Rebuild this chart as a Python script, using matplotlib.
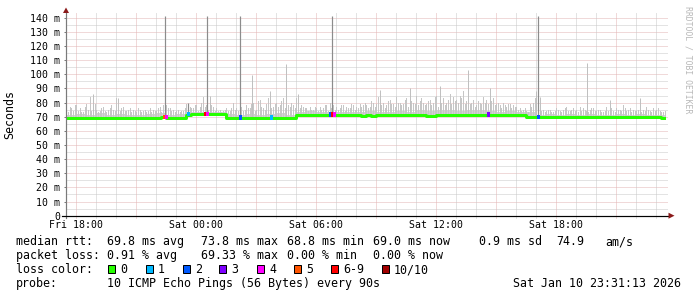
import matplotlib
matplotlib.use("Agg")
import matplotlib.pyplot as plt
from matplotlib.patches import Rectangle, Polygon
from matplotlib.lines import Line2D

# ---------------- data ----------------
# time axis: hours since Fri 17:31:13 (graph spans 30 h, ends Sat 23:31:13)
span_hours = 30.0
first_full_hour_offset = 0.4797      # Fri 18:00
first_full_hour_clock = 18
time_labels = ["Fri 18:00", "Sat 00:00", "Sat 06:00", "Sat 12:00", "Sat 18:00"]

# median RTT (ms), 15-minute bins
median_ms = [
    69.3, 69.3, 69.2, 69.3, 69.4, 69.3, 69.3, 69.2, 69.3, 69.3,
    69.3, 69.4, 69.3, 69.2, 69.3, 69.3, 69.3, 69.3, 69.4, 69.5,
    69.4, 69.3, 69.3, 69.4, 71.5, 71.6, 71.7, 71.6, 71.6, 71.7,
    71.6, 71.6, 69.3, 69.2, 69.2, 69.3, 69.2, 69.2, 69.3, 69.2,
    69.2, 69.3, 69.2, 69.2, 69.3, 69.2, 71.3, 71.4, 71.3, 71.3,
    71.4, 71.3, 71.3, 71.4, 71.3, 71.4, 71.3, 71.3, 70.9, 70.8,
    70.9, 70.8, 71.3, 71.4, 71.3, 71.3, 71.4, 71.3, 71.3, 71.4,
    71.3, 70.9, 70.8, 70.8, 70.9, 71.3, 71.4, 71.3, 71.3, 71.4,
    71.3, 71.4, 71.3, 71.3, 71.4, 71.3, 71.3, 71.4, 71.3, 71.4,
    71.3, 71.3, 69.6, 69.5, 69.5, 69.6, 69.5, 69.5, 69.6, 69.5,
    69.5, 69.6, 69.5, 69.5, 69.6, 69.5, 69.5, 69.6, 69.5, 69.5,
    69.6, 69.5, 69.5, 69.6, 69.5, 69.5, 69.6, 69.5, 69.5, 69.4,
]

# max ping per 10-minute bin (ms): thin smoke columns (first half of each bin)
smoke_top_a_ms = [
    75, 77, 74, 78, 76, 73, 79, 84, 76,
    75, 74, 77, 73, 76, 75, 83, 74, 77,
    74, 76, 75, 73, 75, 74, 73, 76, 75,
    74, 77, 78, 78, 76, 75, 74, 73, 74,
    79, 77, 76, 78, 77, 84, 78, 76, 77,
    76, 75, 74, 76, 74, 80, 76, 75, 74,
    78, 76, 80, 75, 82, 76, 79, 84, 77,
    80, 78, 83, 79, 77, 78, 83, 76, 77,
    76, 77, 75, 76, 77, 76, 78, 80, 78,
    77, 76, 78, 77, 76, 78, 77, 79, 78,
    78, 77, 80, 79, 83, 80, 78, 82, 79,
    84, 80, 79, 83, 78, 80, 85, 81, 80,
    79, 82, 80, 85, 79, 83, 80, 86, 84,
    82, 85, 88, 81, 79, 82, 78, 80, 84,
    82, 80, 83, 79, 78, 80, 77, 79, 78,
    77, 76, 75, 74, 79, 80, 78, 76, 75,
    74, 75, 73, 76, 74, 75, 77, 74, 76,
    75, 77, 76, 74, 75, 76, 74, 75, 73,
    77, 75, 74, 76, 75, 78, 74, 76, 75,
    74, 76, 75, 77, 74, 76, 75, 74, 73,
]

# max ping per 10-minute bin (ms): second half of each bin
smoke_top_b_ms = [
    73, 76, 78, 74, 73, 77, 75, 74, 79,
    73, 76, 74, 75, 78, 74, 73, 76, 74,
    75, 73, 74, 76, 73, 75, 74, 73, 74,
    76, 73, 75, 76, 74, 73, 75, 74, 76,
    75, 76, 78, 74, 80, 77, 75, 78, 74,
    74, 73, 75, 74, 76, 75, 74, 77, 75,
    76, 79, 74, 81, 77, 75, 83, 76, 79,
    77, 81, 76, 78, 80, 76, 75, 78, 76,
    74, 75, 77, 74, 75, 78, 74, 76, 75,
    75, 78, 74, 76, 79, 75, 76, 77, 80,
    76, 81, 77, 84, 78, 76, 81, 79, 77,
    80, 78, 82, 77, 81, 79, 78, 83, 78,
    81, 78, 84, 77, 80, 78, 82, 79, 81,
    80, 83, 79, 84, 80, 77, 81, 79, 80,
    79, 81, 78, 80, 76, 78, 79, 76, 77,
    75, 74, 76, 73, 77, 83, 76, 74, 73,
    75, 73, 74, 75, 73, 76, 74, 75, 74,
    73, 74, 75, 73, 76, 74, 75, 73, 74,
    74, 76, 73, 75, 74, 76, 75, 73, 74,
    75, 73, 74, 75, 73, 74, 76, 73, 74,
]

# upper edge of the dense smoke band (ms), 30-minute bins
smoke_band_ms = [
    71.5, 72.0, 71.5, 72.5, 71.5, 72.0, 71.5, 71.5, 72.0, 72.5,
    71.5, 72.0, 73.5, 73.0, 73.5, 73.0, 72.0, 71.5, 72.0, 71.5,
    72.0, 72.5, 71.5, 73.5, 74.0, 73.5, 73.0, 73.5, 73.0, 73.5,
    74.0, 73.5, 73.0, 74.0, 73.5, 74.5, 74.0, 75.0, 74.5, 74.0,
    74.5, 75.0, 74.0, 73.5, 74.0, 73.0, 73.5, 71.5, 72.0, 71.5,
    72.0, 71.5, 72.0, 71.5, 71.5, 72.0, 71.5, 72.0, 71.5, 71.5,
]

# isolated narrow spikes: time (h) and top (ms)
spike_hours = [4.95, 7.05, 8.70, 13.30, 23.60,
               9.30, 11.00, 20.10, 26.05, 1.35, 2.60, 7.20, 10.20,
               11.60, 15.70, 17.20, 18.70, 21.20, 27.20, 28.70,
               6.10, 23.50, 23.70]
spike_ms = [145, 145, 145, 145, 145,
            99.5, 107, 103, 108, 86, 83, 85, 88,
            86, 89, 90, 92, 90, 82, 83,
            80, 88, 84]
spike_dark = [True] * 5 + [False] * 15 + [True, False, False]

# packet-loss marks on the median line: time (h), loss class index
loss_hours = [4.90, 5.00, 6.10, 6.95, 7.05, 8.70, 10.25, 13.20, 13.30, 13.40, 21.10, 23.60]
loss_class = [5, 4, 1, 6, 4, 2, 1, 2, 6, 4, 3, 2]

loss_labels = ["0", "1", "2", "3", "4", "5", "6-9", "10/10"]
loss_colors = ["#26ff00", "#00b8ff", "#0059ff", "#7e00ff", "#ff00ff",
               "#ff5500", "#ff0000", "#a10000"]

y_ticks = [0, 10, 20, 30, 40, 50, 60, 70, 80, 90, 100, 110, 120, 130, 140]

rtt_stats = [69.8, 73.8, 68.8, 69.0]
rtt_sd = 0.9
rtt_ams = 74.9
loss_stats = [0.91, 69.33, 0.00, 0.00]
probe_text = "10 ICMP Echo Pings (56 Bytes) every 90s"
stamp_text = "Sat Jan 10 23:31:13 2026"

# ---------------- figure ----------------
W, H = 697, 297
fig = plt.figure(figsize=(W / 100, H / 100), dpi=100)
fig.patch.set_facecolor("white")


def fx(px):
    return px / W


def fy(py):
    return 1 - py / H


X0, X1 = 66, 666
Y0, Y1 = 215.7, 15.7
YMAX = (Y0 - Y1) / 1.414
ax = fig.add_axes([fx(X0), fy(Y0), (X1 - X0) / W, (Y0 - Y1) / H])
ax.set_xlim(0, span_hours)
ax.set_ylim(0, YMAX)
ax.set_facecolor("white")
for s in ax.spines.values():
    s.set_visible(False)

MONO = "DejaVu Sans Mono"
PX = 0.72  # one pixel in points
HPX = span_hours / (X1 - X0)  # hours per pixel

# grid (drawn slightly beyond the plot)
gx_end = span_hours + 2 * HPX
for v in range(5, 141, 5):
    col = "#e3b4b4" if v % 10 == 0 else "#c8c8c8"
    ax.add_line(Line2D([0, gx_end], [v, v], color=col, lw=PX,
                       linestyle=(0, (1, 1)), zorder=0, clip_on=False))
k = 0
while first_full_hour_offset + k < span_hours + 0.05:
    h = first_full_hour_offset + k
    clock = (first_full_hour_clock + k) % 24
    col = "#e3b4b4" if clock % 3 == 0 else "#c8c8c8"
    ax.add_line(Line2D([h, h], [-1.5, YMAX + 2], color=col, lw=PX,
                       linestyle=(0, (1, 1)), zorder=0, clip_on=False))
    k += 1

# smoke
nb_med = len(median_ms)
w_med = span_hours / nb_med
nb_top = len(smoke_top_a_ms)
w_top = span_hours / nb_top
nb_band = len(smoke_band_ms)
w_band = span_hours / nb_band


def median_at(h):
    i = min(int(h / w_med), nb_med - 1)
    return median_ms[i]


for i, top in enumerate(smoke_band_ms):
    t = i * w_band
    base = median_at(t + w_band / 2) - 0.8
    ax.bar(t, top - base, bottom=base, width=w_band, align="edge",
           color="#d2d2d2", linewidth=0, zorder=2)
for frac, arr in ((0.25, smoke_top_a_ms), (0.75, smoke_top_b_ms)):
    for i, top in enumerate(arr):
        t = (i + frac) * w_top
        base = median_at(t)
        ax.bar(t, top - base, bottom=base, width=1.0 * HPX, align="center",
               color="#c6c6c6", linewidth=0, zorder=2.2)
for h, top, dark in zip(spike_hours, spike_ms, spike_dark):
    base = median_at(h)
    ax.vlines(h, base, min(top, YMAX), colors="#8c8c8c" if dark else "#c0c0c0",
              lw=1.2 * PX if dark else PX, zorder=3 if dark else 2.3)

# median line
xs = [i * w_med for i in range(nb_med)] + [span_hours]
ys = list(median_ms) + [median_ms[-1]]
ax.plot(xs, ys, drawstyle="steps-post", color=loss_colors[0], lw=3 * PX,
        solid_capstyle="butt", zorder=4)

# loss marks
for h, c in zip(loss_hours, loss_class):
    m = median_at(h)
    ax.add_patch(Rectangle((h - 1.5 * HPX, m - 1.3), 3 * HPX, 3.0,
                           facecolor=loss_colors[c], edgecolor="none", zorder=5))

# axes lines and arrows
ax.add_line(Line2D([0, 0], [-2.5 / 1.414, YMAX + 5.5 / 1.414], color="#7a7a7a",
                   lw=PX * 1.2, zorder=6, clip_on=False))
ax.add_line(Line2D([-4 * HPX, span_hours + 3 * HPX], [0, 0], color="black",
                   lw=PX * 1.2, zorder=6, clip_on=False))
fig.patches.append(Polygon([[fx(63), fy(13)], [fx(69), fy(13)], [fx(66), fy(7.5)]],
                           closed=True, transform=fig.transFigure,
                           facecolor="#8b1a1a", edgecolor="none"))
fig.patches.append(Polygon([[fx(668.5), fy(212.7)], [fx(668.5), fy(218.7)], [fx(674.5), fy(215.7)]],
                           closed=True, transform=fig.transFigure,
                           facecolor="#8b1a1a", edgecolor="none"))

# ticks and labels
ax.set_yticks(y_ticks)
ax.set_yticklabels(["0" if v == 0 else f"{v} m" for v in y_ticks])
label_hours = [first_full_hour_offset + 6 * i for i in range(len(time_labels))]
ax.set_xticks(label_hours)
ax.set_xticklabels(time_labels)
ax.tick_params(axis="y", length=2 * 0.72, width=PX, color="#7a7a7a", pad=4 * 0.72,
               labelsize=7.1, labelfontfamily=MONO)
ax.tick_params(axis="x", length=0, pad=4.6 * 0.72, labelsize=7.1, labelfontfamily=MONO)

fig.text(fx(10), fy(114.5), "Seconds", rotation=90, family=MONO, fontsize=8.4,
         ha="center", va="center")
fig.text(fx(688), fy(60), "RRDTOOL / TOBI OETIKER", rotation=-90, family=MONO,
         fontsize=5.9, ha="center", va="center", color="#b8b8b8")

# legend
FS = 8.4


def ftext(x, yb, s):
    fig.text(fx(x), fy(yb), s, family=MONO, fontsize=FS, ha="left", va="baseline")


L1, L2, L3, L4 = 245.2, 259.2, 273.2, 287.2
ftext(16, L1, "median rtt:")
ftext(107.3, L1, f"{rtt_stats[0]:.1f} ms avg")
ftext(200.7, L1, f"{rtt_stats[1]:.1f} ms max")
ftext(287.3, L1, f"{rtt_stats[2]:.1f} ms min")
ftext(372.7, L1, f"{rtt_stats[3]:.1f} ms now")
ftext(479.3, L1, f"{rtt_sd:.1f} ms sd")
ftext(556.3, L1, f"{rtt_ams:.1f}")
ftext(605.7, L1, "am/s")

ftext(16, L2, "packet loss:")
ftext(107.3, L2, f"{loss_stats[0]:.2f} % avg")
ftext(200.7, L2, f"{loss_stats[1]:.2f} % max")
ftext(287.3, L2, f"{loss_stats[2]:.2f} % min")
ftext(372.7, L2, f"{loss_stats[3]:.2f} % now")

ftext(16, L3, "loss color:")
box_x = [108.3, 145.7, 182.7, 219.3, 256.7, 294.0, 330.7, 381.7]
for bx, lab, col in zip(box_x, loss_labels, loss_colors):
    fig.patches.append(Rectangle((fx(bx), fy(272.5)), 7 / W, 7.2 / H,
                                 transform=fig.transFigure, facecolor=col,
                                 edgecolor="black", lw=PX))
    ftext(bx + 12.3, L3, lab)

ftext(16, L4, "probe:")
ftext(107.3, L4, probe_text)
ftext(513.3, L4, stamp_text)

fig.savefig("out.png", dpi=100, facecolor="white")
